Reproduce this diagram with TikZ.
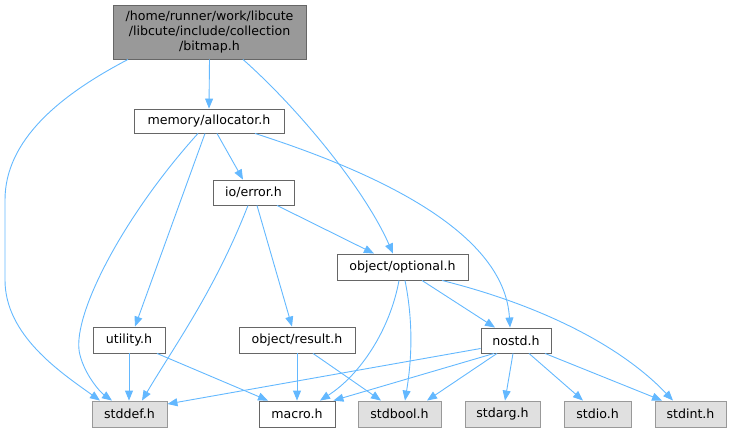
\documentclass[tikz,border=0pt]{standalone}
\usepackage{fontspec}
\setmainfont{DejaVu Sans}
\usetikzlibrary{arrows.meta}
\definecolor{edgecol}{HTML}{63B8FF}
\definecolor{nodeborder}{HTML}{666666}
\definecolor{sysfill}{HTML}{E0E0E0}
\definecolor{sysborder}{HTML}{999999}
\definecolor{rootfill}{HTML}{999999}
\begin{document}
\begin{tikzpicture}[x=1pt,y=-1pt,
  every node/.style={font=\fontsize{12.6}{14.6}\selectfont, inner sep=0pt},
  box/.style={draw=nodeborder, fill=white, line width=0.9pt, minimum height=26pt},
  sysbox/.style={draw=sysborder, fill=sysfill, line width=0.9pt, minimum height=26pt},
  rootbox/.style={draw=nodeborder, fill=rootfill, line width=0.9pt, align=center, minimum width=193pt, minimum height=54pt},
  dep/.style={draw=edgecol, line width=0.9pt, -{Triangle[length=10pt,width=8pt]}},
]
\useasboundingbox (0,0) rectangle (731,432);

% nodes
\node[rootbox] (root) at (209.5,32) {/home/runner/work/libcute\\/libcute/include/collection\\/bitmap.h};
\node[box, minimum width=150pt, minimum height=24pt] (mem) at (209,121) {memory/allocator.h};
\node[box, minimum width=81pt, minimum height=25pt] (err) at (253.5,192.5) {io/error.h};
\node[box, minimum width=131pt] (opt) at (402.5,267) {object/optional.h};
\node[box, minimum width=70pt, minimum height=25pt] (nostd) at (516,340.5) {nostd.h};
\node[box, minimum width=72pt] (utility) at (129,340) {utility.h};
\node[box, minimum width=116pt] (result) at (297,340) {object/result.h};
\node[sysbox, minimum width=75pt] (stddef) at (129.5,414) {stddef.h};
\node[box, minimum width=76pt] (macro) at (297,414) {macro.h};
\node[sysbox, minimum width=83pt] (stdbool) at (399.5,414) {stdbool.h};
\node[sysbox, minimum width=75pt] (stdarg) at (502.5,414) {stdarg.h};
\node[sysbox, minimum width=67pt] (stdio) at (597.5,414) {stdio.h};
\node[sysbox, minimum width=71pt] (stdint) at (690.5,414) {stdint.h};

% edges from root
\draw[dep] ([xshift=-81.5pt]root.south) .. controls (60,95) and (5,140) .. (5,200) -- (5,280) .. controls (5,335) and (60,372) .. ([xshift=-29.5pt]stddef.north);
\draw[dep] (root.south) -- (mem.north);
\draw[dep] ([xshift=33.5pt]root.south) .. controls (300,110) and (365,190) .. ([xshift=-9.5pt]opt.north);

% edges from memory/allocator.h
\draw[dep] ([xshift=-11pt]mem.south) .. controls (120,220) and (70,320) .. (80,355) .. controls (85,375) and (100,392) .. ([xshift=-17.5pt]stddef.north);
\draw[dep] ([xshift=-4pt]mem.south) -- ([xshift=6pt]utility.north);
\draw[dep] ([xshift=8pt]mem.south) -- ([xshift=-10.5pt]err.north);
\draw[dep] ([xshift=46pt]mem.south) .. controls (400,180) and (505,240) .. ([xshift=-6pt]nostd.north);

% edges from io/error.h
\draw[dep] ([xshift=-5.5pt]err.south) .. controls (215,290) and (175,345) .. ([xshift=12.5pt]stddef.north);
\draw[dep] ([xshift=3.5pt]err.south) -- ([xshift=-5pt]result.north);
\draw[dep] ([xshift=23.5pt]err.south) -- ([xshift=-28.5pt]opt.north);

% edges from object/optional.h
\draw[dep] ([xshift=-3.5pt]opt.south) .. controls (390,330) and (360,375) .. ([xshift=23pt]macro.north);
\draw[dep] ([xshift=2.5pt]opt.south) .. controls (415,330) and (410,370) .. ([xshift=5.5pt]stdbool.north);
\draw[dep] ([xshift=19.5pt]opt.south) -- ([xshift=-21pt]nostd.north);
\draw[dep] ([xshift=39.5pt]opt.south) .. controls (540,305) and (620,345) .. ([xshift=-17.5pt]stdint.north);

% edges from utility.h
\draw[dep] (utility.south) -- (utility.south |- stddef.north);
\draw[dep] ([xshift=28pt]utility.south) -- ([xshift=-29pt]macro.north);

% edges from object/result.h
\draw[dep] (result.south) -- (result.south |- macro.north);
\draw[dep] ([xshift=16pt]result.south) -- ([xshift=-18.5pt]stdbool.north);

% edges from nostd.h
\draw[dep] ([yshift=-8pt]nostd.west) -- ([yshift=10pt]stddef.east);
\draw[dep] ([xshift=-22pt]nostd.south) -- ([xshift=-2pt]macro.north east);
\draw[dep] ([xshift=-19pt]nostd.south) -- ([xshift=27.5pt]stdbool.north);
\draw[dep] ([xshift=-3pt]nostd.south) -- ([xshift=2.5pt]stdarg.north);
\draw[dep] ([xshift=13pt]nostd.south) -- ([xshift=-14.5pt]stdio.north);
\draw[dep] ([xshift=29pt]nostd.south) -- ([xshift=-28.5pt]stdint.north);
\end{tikzpicture}
\end{document}
